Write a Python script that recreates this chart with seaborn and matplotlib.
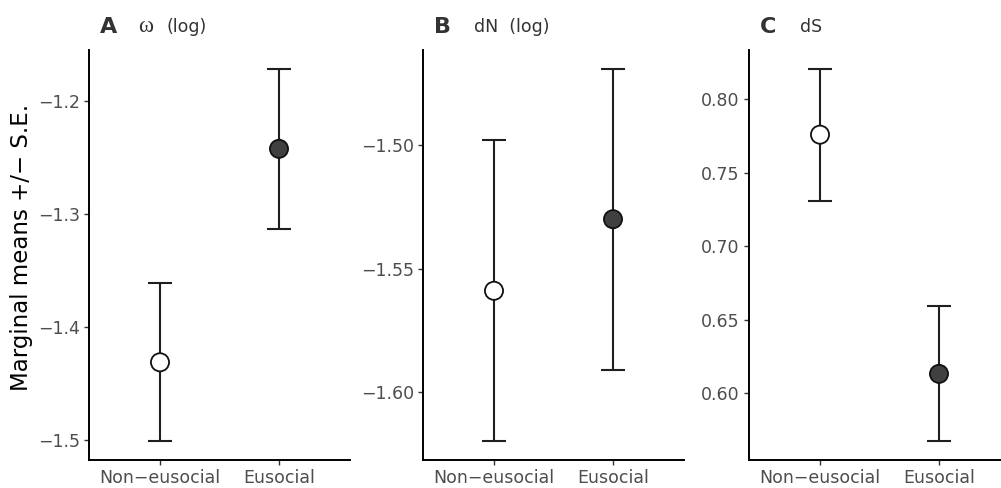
import numpy as np
import pandas as pd
import seaborn as sns
import matplotlib.pyplot as plt
from matplotlib.ticker import FuncFormatter

# Values (marginal means and S.E.)
groups = ["Non\u2212eusocial", "Eusocial"]
omega_mean = [-1.431, -1.242]
omega_se = [0.070, 0.071]
dn_mean = [-1.559, -1.530]
dn_se = [0.061, 0.061]
ds_mean = [0.776, 0.613]
ds_se = [0.045, 0.046]

panel_letters = ["A", "B", "C"]
panel_symbols = ["\u03c9", "dN", "dS"]
panel_suffix = ["(log)", "(log)", ""]
panel_ticks = [[-1.5, -1.4, -1.3, -1.2],
               [-1.60, -1.55, -1.50],
               [0.60, 0.65, 0.70, 0.75, 0.80]]
panel_decimals = [1, 2, 2]

sns.set_theme(style="ticks")
plt.rcParams['font.family'] = ['DejaVu Sans']

W, H = 1001, 488
fig = plt.figure(figsize=(W / 100, H / 100), dpi=100)

lefts = [88.6, 422.6, 748.6]
ax_w, ax_h, ax_b = 261.8, 410, 28
palette = {groups[0]: "white", groups[1]: "#404040"}

series = [(omega_mean, omega_se), (dn_mean, dn_se), (ds_mean, ds_se)]

for i, (means, ses) in enumerate(series):
    ax = fig.add_axes([lefts[i] / W, ax_b / H, ax_w / W, ax_h / H])
    df = pd.DataFrame({"group": groups, "mean": means, "se": ses})
    df["pos"] = np.arange(len(groups))

    ax.errorbar(df["pos"], df["mean"], yerr=df["se"], fmt="none",
                ecolor="#1f1f1f", elinewidth=1.5, capsize=8.5, capthick=1.5,
                zorder=2)
    sns.scatterplot(data=df, x="pos", y="mean", hue="group", palette=palette,
                    s=170, edgecolor="#111111", linewidth=1.3, legend=False,
                    zorder=3, ax=ax)

    lo = (df["mean"] - df["se"]).min()
    hi = (df["mean"] + df["se"]).max()
    pad = 0.05 * (hi - lo)
    ax.set_ylim(lo - pad, hi + pad)
    ax.set_xlim(-0.6, len(groups) - 0.4)

    ax.set_xticks(df["pos"])
    ax.set_xticklabels(groups)
    ax.set_yticks(panel_ticks[i])
    d = panel_decimals[i]
    ax.yaxis.set_major_formatter(
        FuncFormatter(lambda v, p, d=d: f"{v:.{d}f}".replace("-", "\u2212")))
    ax.set_xlabel("")
    ax.set_ylabel("")

    for side in ["top", "right"]:
        ax.spines[side].set_visible(False)
    for side in ["left", "bottom"]:
        ax.spines[side].set_color("black")
        ax.spines[side].set_linewidth(1.4)
    ax.tick_params(axis="both", length=3.8, width=1.0, color="#333333",
                   labelcolor="#4D4D4D", labelsize=12.5, pad=2.5)

    # panel titles
    x0 = lefts[i]
    fig.text((x0 + 11) / W, 1 - 33 / H, panel_letters[i], fontsize=16,
             fontweight="bold", color="#333333", va="baseline", ha="left")
    if i == 0:
        fig.text((x0 + 50) / W, 1 - 32 / H, panel_symbols[i], fontsize=16.5,
                 family=["Liberation Serif", "DejaVu Serif"],
                 color="#333333", va="baseline", ha="left")
        fig.text((x0 + 78) / W, 1 - 32 / H, panel_suffix[i], fontsize=12.5,
                 color="#333333", va="baseline", ha="left")
    else:
        fig.text((x0 + 51) / W, 1 - 32 / H,
                 (panel_symbols[i] + "  " + panel_suffix[i]).strip(),
                 fontsize=12.5, color="#333333", va="baseline", ha="left")

fig.text(22 / W, 1 - 247 / H, "Marginal means +/\u2212 S.E.", rotation=90,
         fontsize=16.5, color="black", ha="center", va="center")

fig.savefig("out.png", dpi=100)
